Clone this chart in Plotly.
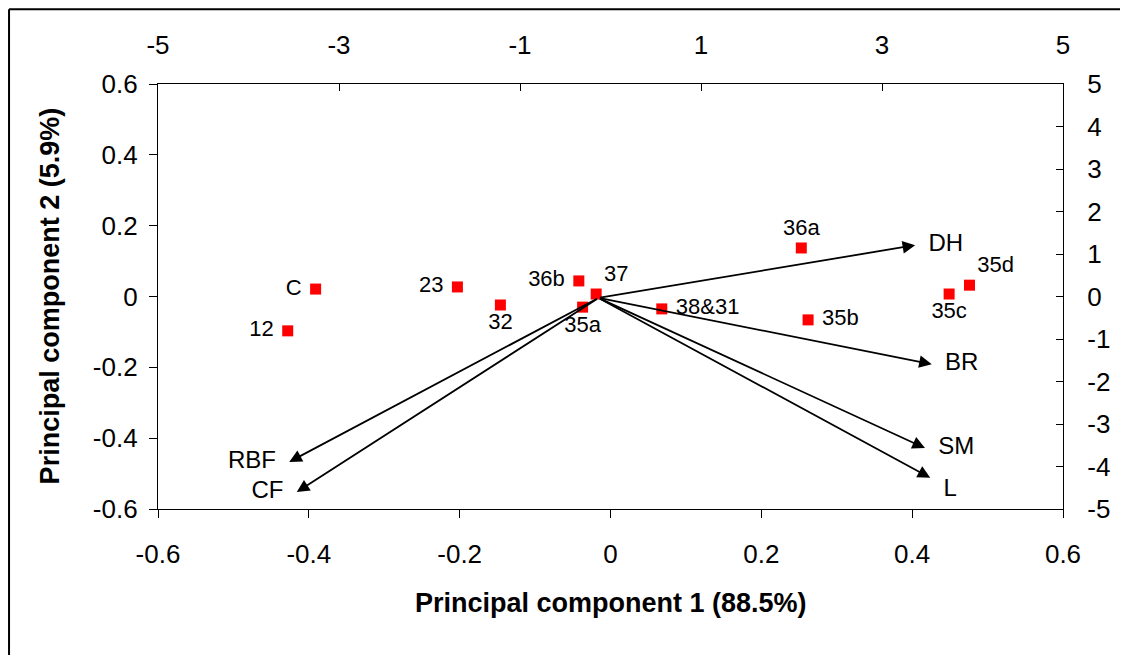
import plotly.graph_objects as go

# --- data ---
point_labels = ["C", "12", "23", "32", "36b", "37", "35a", "38&31", "36a", "35b", "35c", "35d"]
pc1_scores = [-0.391, -0.428, -0.203, -0.146, -0.042, -0.019, -0.037, 0.068, 0.253, 0.262, 0.449, 0.476]
pc2_scores = [0.021, -0.097, 0.027, -0.024, 0.044, 0.007, -0.030, -0.035, 0.137, -0.066, 0.007, 0.032]

var_labels = ["DH", "BR", "SM", "L", "RBF", "CF"]
var_pc1 = [0.404, 0.426, 0.417, 0.424, -0.426, -0.416]
var_pc2 = [0.145, -0.191, -0.428, -0.512, -0.467, -0.552]
arrow_origin = (-0.016, -0.004)

x_ticks = [-0.6, -0.4, -0.2, 0, 0.2, 0.4, 0.6]
x_ticktext = ["-0.6", "-0.4", "-0.2", "0", "0.2", "0.4", "0.6"]
y_ticks = [-0.6, -0.4, -0.2, 0, 0.2, 0.4, 0.6]
y_ticktext = ["-0.6", "-0.4", "-0.2", "0", "0.2", "0.4", "0.6"]
top_ticks = [-5, -3, -1, 1, 3, 5]
right_ticks = [-5, -4, -3, -2, -1, 0, 1, 2, 3, 4, 5]

# --- styles ---
FONT = "Liberation Sans, Arial, sans-serif"
point_textpos = ["middle left", "middle left", "middle left", "bottom center", "middle left",
                 "top right", "bottom center", "middle right", "top center", "middle right",
                 "bottom center", "top right"]
var_textpos = ["middle right", "middle right", "middle right", "bottom right", "middle left", "middle left"]


def pad(label, pos):
    return " " + label + " " if pos.startswith("middle") else label


fig = go.Figure()

fig.add_trace(go.Scatter(
    x=pc1_scores, y=pc2_scores, mode="markers+text",
    text=[pad(t, p) for t, p in zip(point_labels, point_textpos)],
    textposition=point_textpos, textfont=dict(family=FONT, size=22, color="black"),
    marker=dict(symbol="square", size=11, color="#FF0000"),
    cliponaxis=False, showlegend=False, hoverinfo="skip"))

fig.add_trace(go.Scatter(
    x=var_pc1, y=var_pc2, mode="text", text=["  " + t + "  " for t in var_labels],
    textposition=var_textpos, textfont=dict(family=FONT, size=24, color="black"),
    cliponaxis=False, showlegend=False, hoverinfo="skip"))

# invisible trace for secondary axes
fig.add_trace(go.Scatter(x=[0], y=[0], xaxis="x2", yaxis="y2", mode="markers",
                         marker=dict(opacity=0), showlegend=False, hoverinfo="skip"))

annotations = []
for vx, vy in zip(var_pc1, var_pc2):
    annotations.append(dict(
        x=vx, y=vy, ax=arrow_origin[0], ay=arrow_origin[1],
        xref="x", yref="y", axref="x", ayref="y", text="",
        showarrow=True, arrowhead=2, arrowsize=1.4, arrowwidth=1.8,
        arrowcolor="black", standoff=0, startstandoff=0))

annotations.append(dict(x=0.5006, y=-0.221, xref="paper", yref="paper",
                        text="<b>Principal component 1 (88.5%)</b>", showarrow=False,
                        font=dict(family=FONT, size=27, color="black"),
                        xanchor="center", yanchor="middle"))
annotations.append(dict(x=-0.119, y=0.501, xref="paper", yref="paper",
                        text="<b>Principal component 2 (5.9%)</b>", showarrow=False,
                        textangle=-90, font=dict(family=FONT, size=27, color="black"),
                        xanchor="center", yanchor="middle"))

axis_font = dict(family=FONT, size=26, color="black")

# page has an 8px body margin; margins compensate so the plot area sits at the reference position
fig.update_layout(
    width=1128, height=655,
    margin=dict(l=150, r=73, t=76, b=154, autoexpand=False),
    paper_bgcolor="white", plot_bgcolor="white",
    showlegend=False,
    annotations=annotations,
    xaxis=dict(range=[-0.6, 0.6], tickvals=x_ticks, ticktext=x_ticktext, automargin=False,
               showgrid=False, zeroline=False, showline=True, linecolor="black", linewidth=1.3,
               ticks="outside", ticklen=8, tickcolor="black", tickfont=axis_font,
               ticklabelstandoff=14),
    yaxis=dict(range=[-0.6, 0.6], tickvals=y_ticks, ticktext=y_ticktext, automargin=False,
               showgrid=False, zeroline=False, showline=True, linecolor="black", linewidth=1.3,
               ticks="outside", ticklen=8, tickcolor="black", tickfont=axis_font,
               ticklabelstandoff=6),
    xaxis2=dict(range=[-5, 5], tickvals=top_ticks, ticktext=[str(v) for v in top_ticks],
                overlaying="x", side="top", anchor="y", automargin=False,
                showgrid=False, zeroline=False, showline=True, linecolor="black", linewidth=1.3,
                ticks="inside", ticklen=7, tickcolor="black", tickfont=axis_font,
                ticklabelstandoff=18),
    yaxis2=dict(range=[-5, 5], tickvals=right_ticks, ticktext=[str(v) for v in right_ticks],
                overlaying="y", side="right", anchor="x", automargin=False,
                showgrid=False, zeroline=False, showline=True, linecolor="black", linewidth=1.3,
                ticks="inside", ticklen=7, tickcolor="black", tickfont=axis_font,
                ticklabelstandoff=18),
    shapes=[
        dict(type="line", xref="paper", yref="paper", x0=-0.1646, y0=1.176, x1=-0.1646, y1=-0.4,
             line=dict(color="black", width=2)),
        dict(type="line", xref="paper", yref="paper", x0=-0.1646, y0=1.176, x1=1.1, y1=1.176,
             line=dict(color="black", width=2)),
    ],
)

fig.write_html("out.html")
